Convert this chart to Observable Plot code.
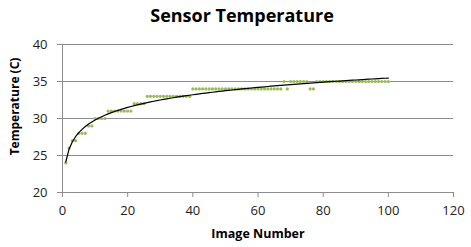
<!DOCTYPE html>
<html>
<head>
<meta charset="utf-8">
<script src="https://cdn.jsdelivr.net/npm/d3@7"></script>
<script src="https://cdn.jsdelivr.net/npm/@observablehq/plot@0.6"></script>
<style>
  html, body { margin: 0; padding: 0; background: #fff; }
  #chart { width: 471px; height: 247px; }
</style>
</head>
<body>
<div id="chart"></div>
<script>
const title = "Sensor Temperature";
const xTitle = "Image Number";
const yTitle = "Temperature (C)";
const xTicks = [0, 20, 40, 60, 80, 100, 120];
const yTicks = [20, 25, 30, 35, 40];

const imageNumbers = [
  1, 2, 3, 4, 5, 6, 7, 8, 9, 10,
  11, 12, 13, 14, 15, 16, 17, 18, 19, 20,
  21, 22, 23, 24, 25, 26, 27, 28, 29, 30,
  31, 32, 33, 34, 35, 36, 37, 38, 39, 40,
  41, 42, 43, 44, 45, 46, 47, 48, 49, 50,
  51, 52, 53, 54, 55, 56, 57, 58, 59, 60,
  61, 62, 63, 64, 65, 66, 67, 68, 69, 70,
  71, 72, 73, 74, 75, 76, 77, 78, 79, 80,
  81, 82, 83, 84, 85, 86, 87, 88, 89, 90,
  91, 92, 93, 94, 95, 96, 97, 98, 99, 100
];
const temperatures = [
  24, 26, 27, 27, 28, 28, 28, 29, 29, 30,
  30, 30, 30, 31, 31, 31, 31, 31, 31, 31,
  31, 32, 32, 32, 32, 33, 33, 33, 33, 33,
  33, 33, 33, 33, 33, 33, 33, 33, 33, 34,
  34, 34, 34, 34, 34, 34, 34, 34, 34, 34,
  34, 34, 34, 34, 34, 34, 34, 34, 34, 34,
  34, 34, 34, 34, 34, 34, 34, 35, 34, 35,
  35, 35, 35, 35, 35, 34, 34, 35, 35, 35,
  35, 35, 35, 35, 35, 35, 35, 35, 35, 35,
  35, 35, 35, 35, 35, 35, 35, 35, 35, 35
];

const data = imageNumbers.map((x, i) => ({x, y: temperatures[i]}));

// Logarithmic trendline (least squares fit of y = a ln(x) + b) from the data
const lx = data.map(d => Math.log(d.x));
const mx = d3.mean(lx), my = d3.mean(data, d => d.y);
const a = d3.sum(data, (d, i) => (lx[i] - mx) * (d.y - my)) / d3.sum(lx, v => (v - mx) ** 2);
const b = my - a * mx;
const trend = imageNumbers.map(x => ({x, y: a * Math.log(x) + b}));

const gray = "#8c8c8c";
const chart = Plot.plot({
  width: 471,
  height: 247,
  marginLeft: 62,
  marginRight: 18,
  marginTop: 44,
  marginBottom: 55,
  style: {fontFamily: "'Open Sans', sans-serif", fontSize: "13px", color: "#222", background: "#fff"},
  x: {domain: [0, 120], ticks: xTicks, label: null},
  y: {domain: [20, 40], ticks: yTicks, label: null},
  marks: [
    Plot.gridY(yTicks.filter(t => t > 20), {stroke: gray, strokeOpacity: 1, strokeWidth: 1}),
    Plot.ruleX([0], {stroke: gray}),
    Plot.ruleY([20], {stroke: gray}),
    Plot.axisX({ticks: xTicks, tickSize: 5, tickPadding: 8, stroke: gray, fill: "#222", label: null, fontSize: 13}),
    Plot.axisY({ticks: yTicks, tickSize: 5, tickPadding: 10, stroke: gray, fill: "#222", label: null, fontSize: 13}),
    Plot.dot(data, {x: "x", y: "y", r: 1.6, fill: "#9bbb59", stroke: null}),
    Plot.line(trend, {x: "x", y: "y", stroke: "#000", strokeWidth: 1.2, curve: "linear"}),
    Plot.text([title], {frameAnchor: "top", textAnchor: "middle", dx: -16, dy: -35, fontSize: 18, fontWeight: "bold", fill: "#000"}),
    Plot.text([xTitle], {frameAnchor: "bottom", textAnchor: "middle", dy: 45, fontSize: 12.5, fontWeight: "bold", fill: "#000"}),
    Plot.text([yTitle], {frameAnchor: "left", textAnchor: "middle", lineAnchor: "middle", dx: -47, dy: -12, rotate: -90, fontSize: 12, fontWeight: "bold", fill: "#000"})
  ]
});
document.getElementById("chart").appendChild(chart);
</script>
</body>
</html>
